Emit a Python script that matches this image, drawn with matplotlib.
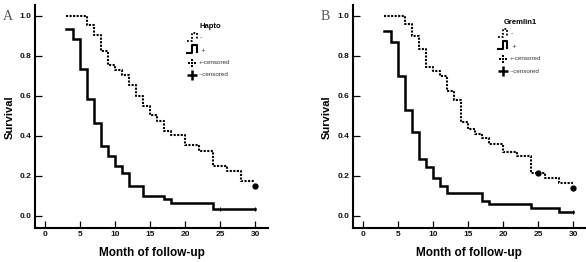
import matplotlib
matplotlib.use("Agg")
import matplotlib.pyplot as plt
from matplotlib.lines import Line2D

W, H = 586, 262

# ---- data ----
hapto_pos_t = [3, 6, 7, 8, 9, 10, 11, 12, 13, 14, 15, 16, 17, 18, 20, 22, 24, 26, 28, 30]
hapto_pos_s = [1.0, 0.955, 0.905, 0.825, 0.752, 0.728, 0.702, 0.652, 0.6, 0.55, 0.502, 0.476,
               0.426, 0.404, 0.354, 0.326, 0.25, 0.226, 0.175, 0.175]
hapto_neg_t = [3, 4, 5, 6, 7, 8, 9, 10, 11, 12, 14, 17, 18, 24, 30]
hapto_neg_s = [0.935, 0.885, 0.734, 0.584, 0.466, 0.351, 0.301, 0.251, 0.216, 0.15, 0.101,
               0.085, 0.066, 0.035, 0.035]
hapto_pos_cens_t = [30]
hapto_pos_cens_s = [0.15]
hapto_neg_cens_t = [25, 30]
hapto_neg_cens_s = [0.035, 0.035]

grem_pos_t = [3, 6, 7, 8, 9, 10, 11, 12, 13, 14, 15, 16, 17, 18, 20, 22, 24, 26, 28, 30]
grem_pos_s = [1.0, 0.958, 0.9, 0.834, 0.746, 0.725, 0.699, 0.624, 0.579, 0.469, 0.432, 0.41,
              0.387, 0.361, 0.32, 0.298, 0.215, 0.188, 0.166, 0.166]
grem_neg_t = [3, 4, 5, 6, 7, 8, 9, 10, 11, 12, 17, 18, 24, 28, 30]
grem_neg_s = [0.925, 0.868, 0.697, 0.528, 0.417, 0.283, 0.246, 0.188, 0.151, 0.116, 0.077,
              0.058, 0.038, 0.021, 0.021]
grem_pos_cens_t = [25, 30]
grem_pos_cens_s = [0.215, 0.14]
grem_neg_cens_t = [30]
grem_neg_cens_s = [0.021]

x_ticks = [0, 5, 10, 15, 20, 25, 30]
y_ticks = [0.0, 0.2, 0.4, 0.6, 0.8, 1.0]
y_tick_labels = ["0.0", "0.2", "0.4", "0.6", "0.8", "1.0"]

panels = [
    dict(letter="A", title="Hapto", left=35, pos=(hapto_pos_t, hapto_pos_s), neg=(hapto_neg_t, hapto_neg_s),
         pc=(hapto_pos_cens_t, hapto_pos_cens_s), nc=(hapto_neg_cens_t, hapto_neg_cens_s),
         letter_xy=(8, 16), ylab_x=10, leg_x=187, title_xy=(210, 26), leg_y0=0),
    dict(letter="B", title="Gremlin1", left=352.7, pos=(grem_pos_t, grem_pos_s), neg=(grem_neg_t, grem_neg_s),
         pc=(grem_pos_cens_t, grem_pos_cens_s), nc=(grem_neg_cens_t, grem_neg_cens_s),
         letter_xy=(325, 16), ylab_x=327, leg_x=498, title_xy=(520, 23), leg_y0=-4),
]

fig = plt.figure(figsize=(W / 100, H / 100), dpi=100)
fig.patch.set_facecolor("white")


def F(x, y):
    return (x / W, 1 - y / H)


ax_w = 233
ax_top, ax_bot = 5, 228
for p in panels:
    ax = fig.add_axes([p["left"] / W, 1 - ax_bot / H, ax_w / W, (ax_bot - ax_top) / H])
    ax.set_xlim(-1.5, 31.8)
    ax.set_ylim(-0.06, 1.053)
    for s in ["top", "right"]:
        ax.spines[s].set_visible(False)
    for s in ["left", "bottom"]:
        ax.spines[s].set_linewidth(1.5)
    ax.set_xticks(x_ticks)
    ax.set_yticks(y_ticks)
    ax.set_yticklabels(y_tick_labels)
    ax.tick_params(direction="in", length=5, width=0.9, labelsize=6, pad=2.5)
    for lab in ax.get_xticklabels() + ax.get_yticklabels():
        lab.set_fontweight("bold")
        lab.set_family("Liberation Sans")
        lab.set_color("#111111")

    t, s = p["pos"]
    ax.step(t, s, where="post", color="black", lw=1.5, linestyle=(0, (1.0, 0.7)))
    t, s = p["neg"]
    ax.step(t, s, where="post", color="black", lw=1.8, solid_joinstyle="miter")
    ct, cs = p["pc"]
    ax.plot(ct, cs, "o", color="black", ms=3.5)
    ct, cs = p["nc"]
    ax.plot(ct, cs, "|", color="black", ms=3, mew=0.8)

    fig.text(*F(*p["letter_xy"]), p["letter"], family="Liberation Serif", fontsize=10,
             color="#555555", ha="center", va="center")
    fig.text(*F(p["ylab_x"], 117), "Survival", rotation=90, fontsize=8, fontweight="bold",
             family="Liberation Sans", ha="center", va="center")
    fig.text(*F(p["left"] + ax_w / 2, 253), "Month of follow-up", fontsize=8.5, fontweight="bold",
             family="Liberation Sans", ha="center", va="center")

    # legend
    lx = p["leg_x"]
    dy = p["leg_y0"]
    fig.text(*F(*p["title_xy"]), p["title"], fontsize=5.5, fontweight="bold",
             family="Liberation Sans", ha="center", va="center")
    xs = [lx, lx + 4.5, lx + 4.5, lx + 9.5, lx + 9.5]
    ys1 = [41 + dy, 41 + dy, 33 + dy, 33 + dy, 40 + dy]
    ys2 = [53 + dy, 53 + dy, 45 + dy, 45 + dy, 52 + dy]
    fig.add_artist(Line2D([F(x, 0)[0] for x in xs], [F(0, y)[1] for y in ys1], color="black",
                          lw=1.3, linestyle=(0, (1.0, 1.0))))
    fig.add_artist(Line2D([F(x, 0)[0] for x in xs], [F(0, y)[1] for y in ys2], color="black",
                          lw=1.5))
    fig.text(*F(lx + 13, 38 + dy), "-", fontsize=4.5, color="#333333", ha="left", va="center")
    fig.text(*F(lx + 13, 50 + dy), "+", fontsize=4, color="#333333", ha="left", va="center")
    # dotted plus
    cx, cy = lx + 4.5, 63 + dy
    for ddx, ddy in [(0, 0), (-3, 0), (3, 0), (0, -3), (0, 3)]:
        fig.add_artist(Line2D([F(cx + ddx, 0)[0]], [F(0, cy + ddy)[1]], marker="s", ms=1.7,
                              color="black", lw=0, mew=0))
    # solid plus
    cx2, cy2 = lx + 4.5, 75 + dy
    fig.add_artist(Line2D([F(cx2, 0)[0]], [F(0, cy2)[1]], marker="+", ms=6.5, mew=1.8,
                          color="black", lw=0))
    fig.text(*F(lx + 12, 63 + dy), "+-censored", fontsize=4.5, color="#333333",
             family="Liberation Sans", ha="left", va="center")
    fig.text(*F(lx + 12, 75 + dy), "--censored", fontsize=4.5, color="#333333",
             family="Liberation Sans", ha="left", va="center")

fig.savefig("out.png", dpi=100, facecolor="white")
